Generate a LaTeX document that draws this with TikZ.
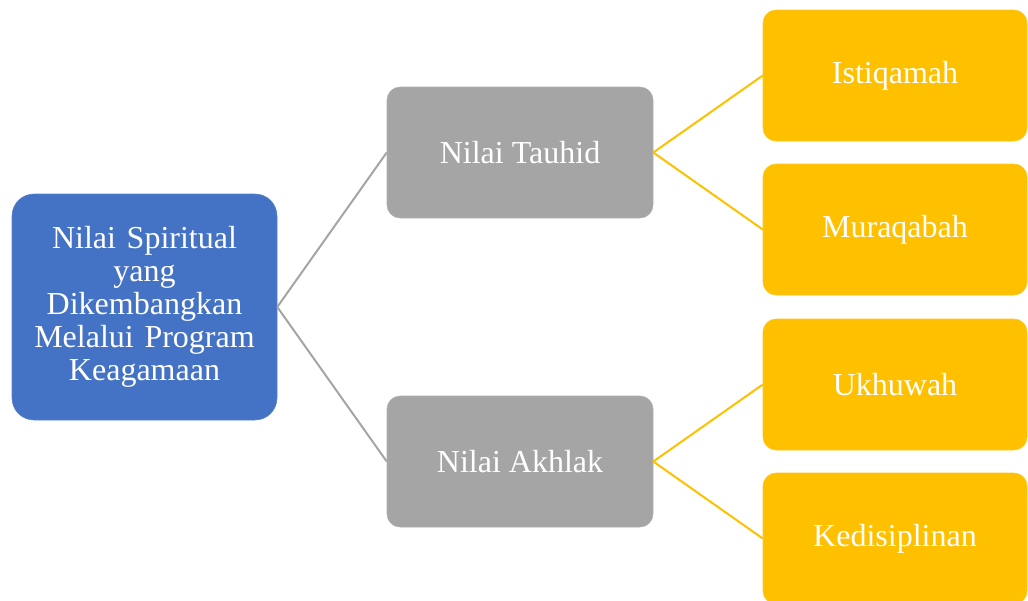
\documentclass[tikz,border=0pt]{standalone}
\usepackage{fontspec}
\setmainfont{Liberation Serif}
\definecolor{rootblue}{HTML}{4472C4}
\definecolor{midgray}{HTML}{A5A5A5}
\definecolor{leafgold}{HTML}{FFC000}
\begin{document}
\begin{tikzpicture}[x=0.75pt, y=-0.75pt,
    root/.style ={rectangle, fill=rootblue, draw=rootblue!90!white, rounded corners=16.5pt,
                  minimum width=198.75pt, minimum height=169.5pt, inner sep=0pt,
                  text width=190pt, align=center, text=white,
                  font=\fontsize{24}{24.75}\selectfont},
    value/.style ={rectangle, fill=midgray, draw=midgray!90!white, rounded corners=9.75pt,
                  minimum width=199.5pt, minimum height=98.25pt, inner sep=0pt,
                  text=white, font=\fontsize{24}{24.75}\selectfont},
    aspect/.style ={rectangle, fill=leafgold, draw=leafgold!90!white, rounded corners=9.75pt,
                  minimum width=198pt, minimum height=98.25pt, inner sep=0pt,
                  text=white, font=\fontsize{24}{24.75}\selectfont}]
   \useasboundingbox (0,0) rectangle (1028,600);

   \node[root]   (A) at (144.5,307)  {Nilai Spiritual\\yang\\Dikembangkan\\Melalui Program\\Keagamaan};
   \node[value]  (B) at (520,152.5)  {Nilai Tauhid};
   \node[value]  (C) at (520,461.5)  {Nilai Akhlak};
   \node[aspect] (D) at (895,75.5)   {Istiqamah};
   \node[aspect] (E) at (895,229.5)  {Muraqabah};
   \node[aspect] (F) at (895,384.5)  {Ukhuwah};
   \node[aspect] (G) at (895,538.5)  {Kedisiplinan};

   \draw[line width=1.5pt, midgray] (A.east) -- (B.west);
   \draw[line width=1.5pt, midgray] (A.east) -- (C.west);

   \draw[line width=1.5pt, leafgold] (B.east) -- (D.west);
   \draw[line width=1.5pt, leafgold] (B.east) -- (E.west);
   \draw[line width=1.5pt, leafgold] (C.east) -- (F.west);
   \draw[line width=1.5pt, leafgold] (C.east) -- (G.west);

\end{tikzpicture}
\end{document}
